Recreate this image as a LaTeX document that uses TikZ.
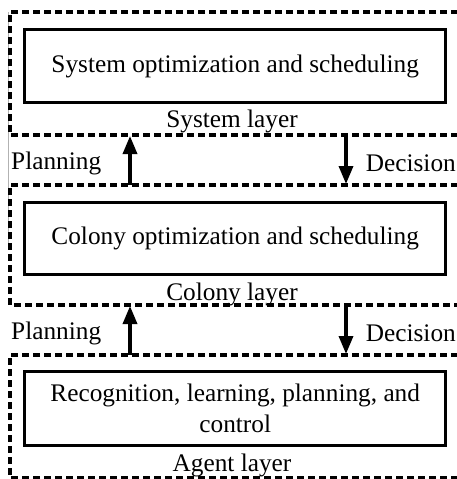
\documentclass[tikz,border=0pt]{standalone}
\usepackage{fontspec}
\setmainfont{Liberation Serif}
\usetikzlibrary{arrows.meta}
\begin{document}
\begin{tikzpicture}[x=1pt,y=-1pt,
  layerbox/.style={draw, line width=3.2pt, dash pattern=on 7pt off 4pt},
  procbox/.style={draw, line width=3.4pt, minimum width=421pt, anchor=north west,
    inner sep=0pt, align=center, font=\fontsize{25.3}{31}\selectfont},
  caption/.style={font=\fontsize{25.3}{30}\selectfont, inner sep=0pt},
  flow/.style={line width=3.4pt, -{Triangle[length=18pt,width=14pt]}}]
\useasboundingbox (0,0) rectangle (457,479);
\clip (0,0) rectangle (457,479);
% faint edge line on the left
\draw[gray!60, line width=0.7pt] (8,12) -- (8,245);
% dashed layer frames (open to the right)
\draw[layerbox] (480,12) -- (10,12) -- (10,135) -- (480,135);
\draw[layerbox] (480,185) -- (10,185) -- (10,305) -- (480,305);
\draw[layerbox] (480,355) -- (10,355) -- (10,478) -- (480,478);
% processing boxes
\node[procbox, minimum height=73pt] (sys) at (23,28) {System optimization and scheduling};
\node[procbox, minimum height=72pt] (col) at (23,201) {Colony optimization and scheduling};
\node[procbox, minimum height=74pt] (agt) at (23,370) {Recognition, learning, planning, and\\control};
% layer captions
\node[caption] (syslbl) at (232,121) {System layer};
\node[caption] (collbl) at (232,294) {Colony layer};
\node[caption] (agtlbl) at (232,465) {Agent layer};
% flow labels
\node[caption, anchor=west] (plan1) at (11,163) {Planning};
\node[caption, anchor=east] (dec1) at (456,163) {Decision};
\node[caption, anchor=west] (plan2) at (11,333) {Planning};
\node[caption, anchor=east] (dec2) at (456,333) {Decision};
% arrow end points on the frame lines
\coordinate (p1a) at (130,185);
\coordinate (p1b) at (130,136);
\coordinate (d1a) at (346,135);
\coordinate (d1b) at (346,184);
\coordinate (p2a) at (130,355);
\coordinate (p2b) at (130,306);
\coordinate (d2a) at (346,305);
\coordinate (d2b) at (346,354);
\draw[flow] (p1a) -- (p1b);
\draw[flow] (d1a) -- (d1b);
\draw[flow] (p2a) -- (p2b);
\draw[flow] (d2a) -- (d2b);
\end{tikzpicture}
\end{document}
